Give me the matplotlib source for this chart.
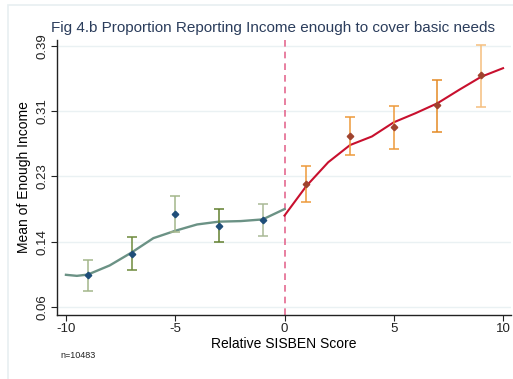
import numpy as np
import matplotlib.pyplot as plt
from matplotlib import rc
from matplotlib.patches import Rectangle

rc('font', **{'family': 'Liberation Sans', 'size': 9})

# binned means with 95% intervals
bins_left = [-9, -7, -5, -3, -1]
mean_left = [0.1026, 0.1291, 0.1796, 0.1641, 0.1721]
lo_left = [0.0828, 0.1085, 0.1561, 0.1435, 0.1518]
hi_left = [0.1215, 0.1498, 0.2011, 0.1852, 0.1919]

bins_right = [1, 3, 5, 7, 9]
mean_right = [0.2168, 0.2765, 0.2875, 0.3153, 0.3527]
lo_right = [0.1940, 0.2525, 0.2597, 0.2816, 0.3132]
hi_right = [0.2386, 0.3002, 0.3145, 0.3469, 0.3907]

# local polynomial fits either side of the cutoff
fit_x_left = [-10, -9.5, -9, -8, -7, -6, -5, -4, -3, -2, -1, 0]
fit_y_left = [0.1031, 0.1018, 0.1034, 0.1148, 0.1309, 0.1489, 0.1581,
              0.1660, 0.1695, 0.1702, 0.1723, 0.1852]
fit_x_right = [0, 1, 2, 3, 4, 5, 6, 7, 8, 9, 10]
fit_y_right = [0.1771, 0.2140, 0.2437, 0.2652, 0.2759, 0.2936, 0.3050,
               0.3174, 0.3343, 0.3505, 0.3612]

ytick_vals = np.linspace(0.063, 0.389, 5)
ytick_labels = ['0.06', '0.14', '0.23', '0.31', '0.39']
xtick_vals = [-10, -5, 0, 5, 10]

bar_left_colors = ['#a3b68a', '#6e8a3c', '#a3b68a', '#62802f', '#a9b996']
bar_right_colors = ['#ee9a3a', '#ee9a3a', '#ee9a3a', '#e48a24', '#f5bf7e']

W, H = 513, 379
fig = plt.figure(figsize=(W / 100, H / 100), dpi=100)
fig.patch.set_facecolor('white')
fig.patches.append(Rectangle((8 / W, -0.1), 1.1, (379 - 5) / H + 0.1,
                             transform=fig.transFigure, fc='white',
                             ec='#e8eff1', lw=1.2, zorder=-5))

ax = fig.add_axes([57 / W, (H - 315) / H, (510.7 - 57) / W, (315 - 40) / H])
ax.set_zorder(2)
ax.set_facecolor('none')
ax.set_xlim(-10.41, 10.35)
ax.set_ylim(0.0529, 0.3964)
for s in ['top', 'right']:
    ax.spines[s].set_visible(False)
for s in ['left', 'bottom']:
    ax.spines[s].set_color('#222222')
    ax.spines[s].set_linewidth(1.0)

ax.set_yticks(ytick_vals)
ax.set_yticklabels(ytick_labels, rotation=90, va='center', fontsize=9.5)
ax.set_xticks(xtick_vals)
ax.set_xticklabels([str(v) for v in xtick_vals], fontsize=9.5)
ax.tick_params(length=4, width=0.8, pad=2, colors='#222222')
for yv in ytick_vals:
    ax.axhline(yv, color='#eaf1f3', lw=1.0, zorder=0)

ax.axvline(0, color='#e46a90', lw=1.2, ls=(0, (4, 3)), zorder=1)

ax.plot(fit_x_left, fit_y_left, color='#6b9285', lw=1.7, zorder=2)
ax.plot(fit_x_right, fit_y_right, color='#c8102e', lw=1.5, zorder=2)

for xb, m, lo, hi, c in zip(bins_left, mean_left, lo_left, hi_left, bar_left_colors):
    ax.errorbar([xb], [m], yerr=[[m - lo], [hi - m]], fmt='none', ecolor=c,
                elinewidth=1.1, capsize=3.5, capthick=1.1, zorder=3)
for xb, m, lo, hi, c in zip(bins_right, mean_right, lo_right, hi_right, bar_right_colors):
    ax.errorbar([xb], [m], yerr=[[m - lo], [hi - m]], fmt='none', ecolor=c,
                elinewidth=1.1, capsize=3.5, capthick=1.1, zorder=3)

ax.plot(bins_left, mean_left, 'D', color='#1f4e79', ms=3.3, zorder=4)
ax.plot(bins_right, mean_right, 'D', color='#a0432e', ms=3.3, zorder=4)

ax.set_xlabel('Relative SISBEN Score', fontsize=10, labelpad=1)
ax.set_ylabel('Mean of Enough Income', fontsize=10, labelpad=4)

fig.text(273 / W, 1 - 28 / H, 'Fig 4.b Proportion Reporting Income enough to cover basic needs',
         ha='center', va='center', fontsize=11, color='#2b3d5c')
fig.text(60 / W, 1 - 356 / H, 'n=10483', fontsize=6.5, va='center', color='#222222')

fig.savefig('out.png', dpi=100)
